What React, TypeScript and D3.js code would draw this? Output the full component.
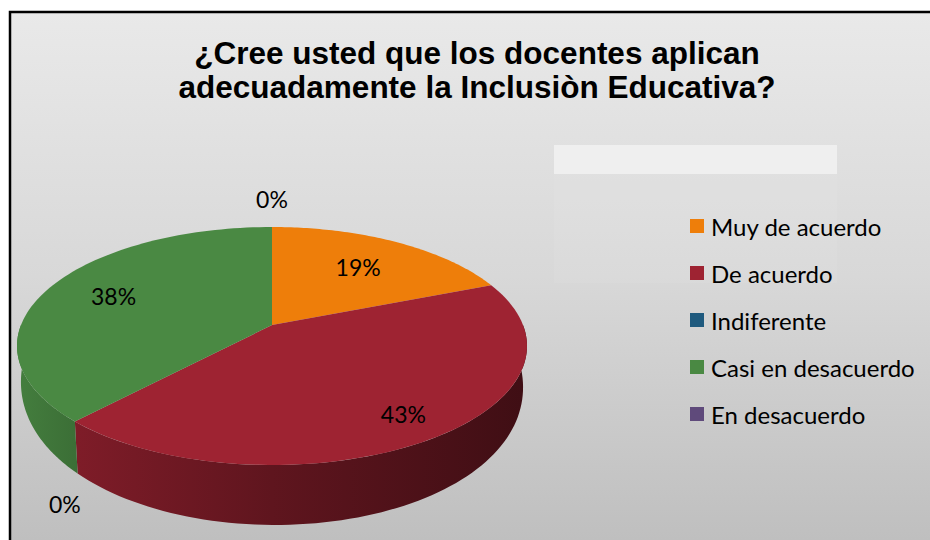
import React from "react";
import * as d3 from "d3";

const categories = ["Muy de acuerdo", "De acuerdo", "Indiferente", "Casi en desacuerdo", "En desacuerdo"];
const values = [19, 43, 0, 38, 0];
const colors = ["#EE7E0A", "#9E2332", "#1F5A7E", "#4A8943", "#5F4A7B"];
const titleLines = ["¿Cree usted que los docentes aplican", "adecuadamente la Inclusiòn Educativa?"];

const W = 930, H = 540;
// pie geometry (top face ellipse with perspective)
const CX = 272, CY = 346, RX = 255, RY = 119, PERSP = -0.176;
const labelRadius = [0.67, 0.82, 0, 0.71, 0];

function proj(r: number, t: number): [number, number] {
  const u = r * Math.sin(t), v = -r * Math.cos(t);
  const den = 1 + PERSP * v;
  return [CX + RX * Math.sqrt(1 - PERSP * PERSP) * u / den, CY + RY * (v + PERSP) / den];
}
function depth(t: number) {
  const phi = (t * 180) / Math.PI - 180;
  return 60 - 0.0034 * (phi + 5) ** 2;
}
function projBottom(t: number): [number, number] {
  const [x, y] = proj(1, t);
  return [x - 4 * Math.sin(t), y + depth(t)];
}
function isFront(t: number) {
  const m = ((t % (2 * Math.PI)) + 2 * Math.PI) % (2 * Math.PI);
  return m >= Math.PI / 2 && m <= (3 * Math.PI) / 2;
}
function samples(a0: number, a1: number, n = 80) {
  return d3.range(n + 1).map((i) => a0 + ((a1 - a0) * i) / n);
}

export default function App() {
  const pie = d3.pie<number>().sort(null).value((d) => d).startAngle(0).endAngle(2 * Math.PI);
  const arcs = pie(values);
  const line = d3.line();
  const legendY = d3.scalePoint<string>().domain(categories).range([226, 414]);
  const mix = (c: string, k: number) => d3.interpolateRgb(c, "#000")(k);

  return (
    <svg width={W} height={H} style={{ position: "absolute", left: 0, top: 0 }}>
      <defs>
        <linearGradient id="bg" x1="0" y1="0" x2="0" y2="1">
          <stop offset="0" stopColor="#e9e9e9" />
          <stop offset="0.5" stopColor="#d8d8d8" />
          <stop offset="1" stopColor="#bfbfbf" />
        </linearGradient>
        {colors.map((c, i) => (
          <linearGradient key={i} id={`side${i}`} gradientUnits="userSpaceOnUse" x1={CX - RX} y1="0" x2={CX + RX} y2="0">
            <stop offset="0" stopColor={mix(c, 0.08)} />
            <stop offset="0.12" stopColor={mix(c, 0.2)} />
            <stop offset="0.5" stopColor={mix(c, 0.4)} />
            <stop offset="1" stopColor={mix(c, 0.6)} />
          </linearGradient>
        ))}
      </defs>
      <rect x={0} y={0} width={W} height={H} fill="#fff" />
      <rect x={10} y={12} width={W - 10} height={H - 12} fill="url(#bg)" />
      <rect x={554} y={145} width={283} height={29} fill="#efefef" />
      <rect x={554} y={174} width={283} height={109} fill="#fff" opacity={0.06} />

      {titleLines.map((t, i) => (
        <text key={i} x={477} y={64 + i * 34} textAnchor="middle" fontFamily="Liberation Sans, Arial, sans-serif" fontWeight="bold" fontSize={31.5} fill="#000">
          {t}
        </text>
      ))}

      {/* side walls */}
      {arcs.map((a, i) => {
        if (a.endAngle - a.startAngle <= 0) return null;
        const s = Math.max(a.startAngle, Math.PI / 2);
        const e = Math.min(a.endAngle, (3 * Math.PI) / 2);
        if (e <= s) return null;
        const ts = samples(s, e);
        const pts = [...ts.map((t) => proj(1, t)), ...ts.slice().reverse().map((t) => projBottom(t))];
        return <path key={`s${i}`} d={line(pts as [number, number][]) + "Z"} fill={`url(#side${i})`} />;
      })}
      {/* top faces */}
      {arcs.map((a, i) => {
        if (a.endAngle - a.startAngle <= 0) return null;
        const pts = [proj(0, 0), ...samples(a.startAngle, a.endAngle).map((t) => proj(1, t))];
        return <path key={`t${i}`} d={line(pts as [number, number][]) + "Z"} fill={colors[i]} />;
      })}

      {/* data labels */}
      {arcs.map((a, i) => {
        let x: number, y: number;
        if (a.value > 0) {
          [x, y] = proj(labelRadius[i], (a.startAngle + a.endAngle) / 2);
        } else {
          const t = a.startAngle;
          const [bx, by] = isFront(t) ? projBottom(t) : proj(1, t);
          const dx = 0.45 * Math.sin(t), dy = -Math.cos(t);
          const len = Math.hypot(dx, dy);
          const off = isFront(t) ? 33 : 28;
          x = bx + (dx / len) * off;
          y = by + (dy / len) * off;
        }
        return (
          <text key={`l${i}`} x={x} y={y} textAnchor="middle" dominantBaseline="central" fontFamily="Lato, sans-serif" fontSize={23} fill="#000">
            {`${values[i]}%`}
          </text>
        );
      })}

      {/* legend */}
      {categories.map((c, i) => (
        <g key={c} transform={`translate(690,${legendY(c)})`}>
          <rect x={0} y={-7} width={14} height={14} fill={colors[i]} />
          <text x={21} y={0} dominantBaseline="central" fontFamily="Lato, sans-serif" fontSize={24} fill="#000">
            {c}
          </text>
        </g>
      ))}

      {/* frame */}
      <path d={`M10,${H}V12H${W}`} fill="none" stroke="#000" strokeWidth={2.5} />
    </svg>
  );
}
